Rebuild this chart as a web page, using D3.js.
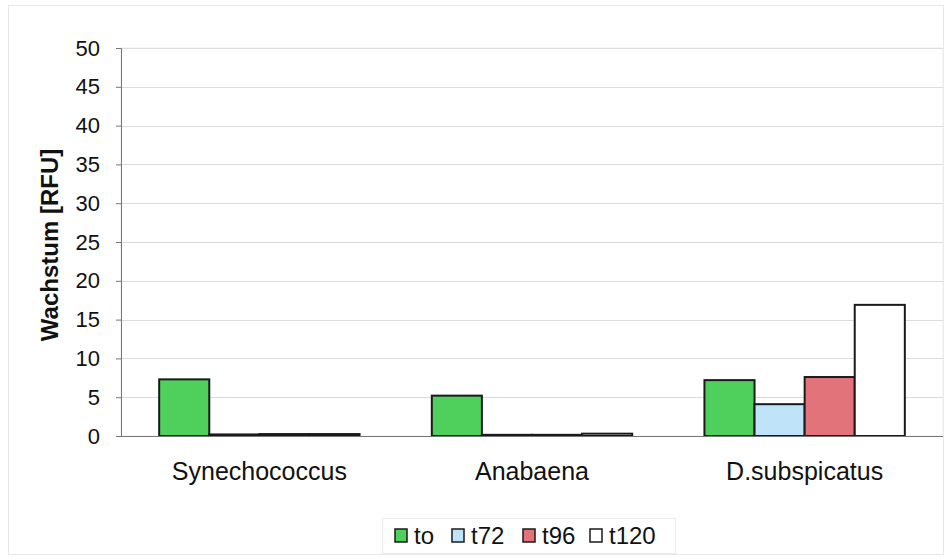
<!DOCTYPE html>
<html>
<head>
<meta charset="utf-8">
<script src="https://cdn.jsdelivr.net/npm/d3@7"></script>
<style>
  body { margin: 0; background: #fff; }
  svg { display: block; font-family: "Liberation Sans", Arial, sans-serif; }
</style>
</head>
<body>
<svg id="chart" width="952" height="558"></svg>
<script>
// Growth per organism at each sampling time
const categories = ["Synechococcus", "Anabaena", "D.subspicatus"];
const seriesNames = ["to", "t72", "t96", "t120"];
const seriesColors = ["#4fcf5c", "#bfe4f9", "#e2737b", "#ffffff"];
const valuesTo   = [7.3, 5.2, 7.2];
const valuesT72  = [0.2, 0.15, 4.1];
const valuesT96  = [0.25, 0.15, 7.6];
const valuesT120 = [0.25, 0.3, 16.9];
const yTicks = [0, 5, 10, 15, 20, 25, 30, 35, 40, 45, 50];

const series = [valuesTo, valuesT72, valuesT96, valuesT120];

const svg = d3.select("#chart");
const margin = { left: 121, right: 9, top: 48, bottom: 122 };
const W = 952, H = 558;
const plotW = W - margin.left - margin.right;
const plotH = H - margin.top - margin.bottom;

// outer chart frame
svg.append("rect")
  .attr("x", 8.5).attr("y", 5.5).attr("width", W - 17).attr("height", H - 9)
  .attr("fill", "none").attr("stroke", "#e8e8e8").attr("stroke-width", 1);

const g = svg.append("g").attr("transform", `translate(${margin.left},${margin.top})`);

const x0 = d3.scaleBand().domain(categories).range([0, plotW]).paddingInner(0.265).paddingOuter(0.14);
const x1 = d3.scaleBand().domain(seriesNames).range([0, x0.bandwidth()]).padding(0);
const y = d3.scaleLinear().domain([0, 50]).range([plotH, 0]);

// plot area frame
g.append("rect").attr("x", 0).attr("y", 0).attr("width", plotW).attr("height", plotH)
  .attr("fill", "none").attr("stroke", "#eeeeee");

// gridlines
g.selectAll(".grid").data(yTicks.filter(d => d > 0)).enter().append("line")
  .attr("x1", 0).attr("x2", plotW)
  .attr("y1", d => Math.round(y(d)) + 0.5).attr("y2", d => Math.round(y(d)) + 0.5)
  .attr("stroke", "#dcdcdc").attr("stroke-width", 1);

// bars
const rows = categories.map((c, i) => ({ cat: c, vals: seriesNames.map((s, j) => ({ s, j, v: series[j][i] })) }));
const groups = g.selectAll(".grp").data(rows).enter().append("g")
  .attr("transform", d => `translate(${x0(d.cat)},0)`);
groups.selectAll("rect").data(d => d.vals).enter().append("rect")
  .attr("x", d => x1(d.s))
  .attr("y", d => y(d.v))
  .attr("width", x1.bandwidth())
  .attr("height", d => y(0) - y(d.v))
  .attr("fill", d => seriesColors[d.j])
  .attr("stroke", "#1a1a1a").attr("stroke-width", 2);

// y axis
const yAxis = d3.axisLeft(y).tickValues(yTicks).tickSize(5).tickPadding(16);
const ya = g.append("g").call(yAxis);
ya.select(".domain").attr("stroke", "#777");
ya.selectAll(".tick line").attr("stroke", "#777");
ya.selectAll("text").attr("font-size", 22).attr("fill", "#111");

// x axis baseline
g.append("line").attr("x1", -5).attr("x2", plotW).attr("y1", plotH + 0.5).attr("y2", plotH + 0.5)
  .attr("stroke", "#777");

// category labels
g.selectAll(".cat").data(categories).enter().append("text")
  .attr("x", d => x0(d) + x0.bandwidth() / 2)
  .attr("y", plotH + 44)
  .attr("text-anchor", "middle").attr("font-size", 25).attr("fill", "#111")
  .text(d => d);

// y axis title
svg.append("text")
  .attr("transform", `translate(58,245) rotate(-90)`)
  .attr("text-anchor", "middle").attr("font-size", 24).attr("font-weight", "bold").attr("fill", "#111")
  .text("Wachstum [RFU]");

// legend
const legend = svg.append("g").attr("transform", "translate(382,518)");
legend.append("rect").attr("x", 0.5).attr("y", 0.5).attr("width", 293).attr("height", 35)
  .attr("fill", "#fff").attr("stroke", "#ececec");
const legendX = [13, 70, 141, 208];
const items = legend.selectAll(".li").data(seriesNames).enter().append("g")
  .attr("transform", (d, i) => `translate(${legendX[i]},0)`);
items.append("rect").attr("x", 0).attr("y", 11).attr("width", 12).attr("height", 13)
  .attr("fill", (d, i) => seriesColors[i]).attr("stroke", "#1a1a1a").attr("stroke-width", 1.5);
items.append("text").attr("x", 19).attr("y", 26).attr("font-size", 24).attr("fill", "#111").text(d => d);
</script>
</body>
</html>
